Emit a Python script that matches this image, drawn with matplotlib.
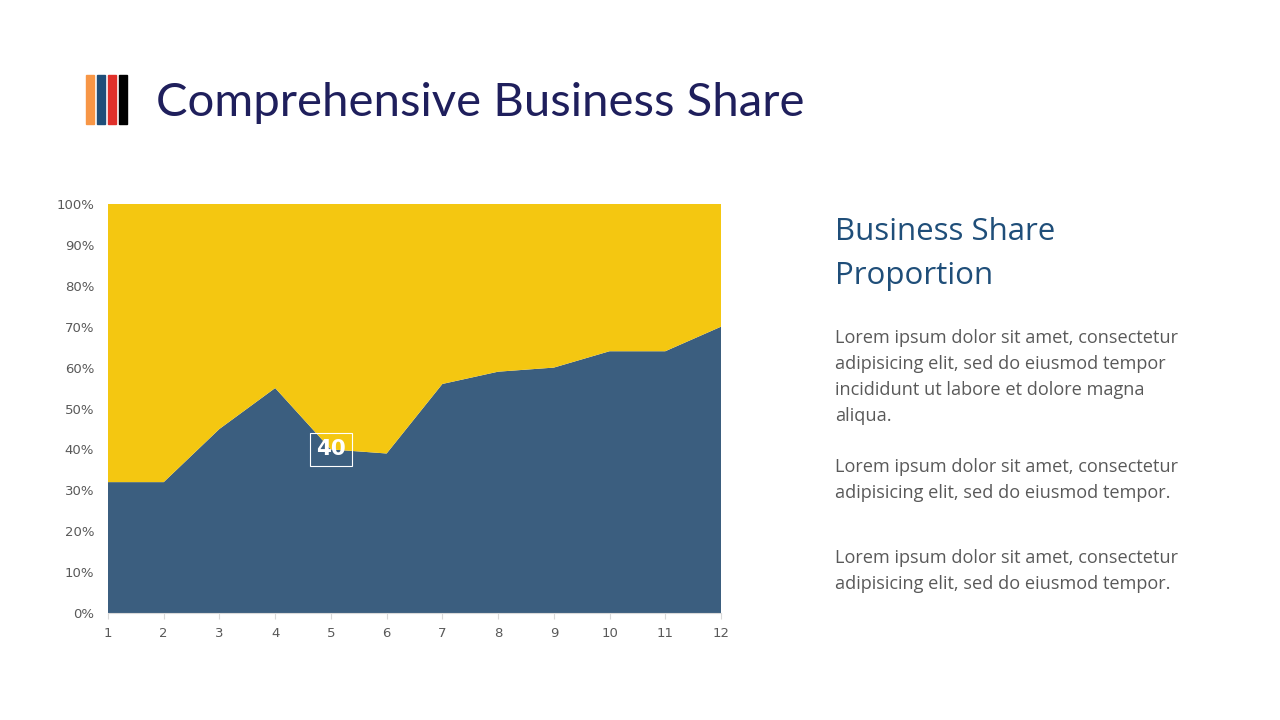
import matplotlib.pyplot as plt
from matplotlib.patches import Rectangle
from matplotlib.ticker import PercentFormatter

# chart data (percent share per period)
periods = [1, 2, 3, 4, 5, 6, 7, 8, 9, 10, 11, 12]
share_a = [32, 32, 45, 55, 40, 39, 56, 59, 60, 64, 64, 70]
share_b = [100 - v for v in share_a]
label_index = 4  # data label shown on period 5

title = "Comprehensive Business Share"
side_heading = "Business Share\nProportion"
side_paragraphs = [
    "Lorem ipsum dolor sit amet, consectetur\nadipisicing elit, sed do eiusmod tempor\nincididunt ut labore et dolore magna\naliqua.",
    "Lorem ipsum dolor sit amet, consectetur\nadipisicing elit, sed do eiusmod tempor.",
    "Lorem ipsum dolor sit amet, consectetur\nadipisicing elit, sed do eiusmod tempor.",
]

BLUE = "#3B5E7F"
YELLOW = "#F4C711"
GRAY = "#595959"

fig = plt.figure(figsize=(12.8, 7.2), dpi=100)
fig.patch.set_facecolor("white")

# title decoration bars
for i, c in enumerate(["#F79646", "#1F4E79", "#E0302A", "#000000"]):
    fig.patches.append(Rectangle(((86 + i * 11) / 1280, 1 - 124 / 720), 8 / 1280, 49 / 720,
                                 transform=fig.transFigure, color=c))
fig.text(156 / 1280, 1 - 103 / 720, title, fontsize=34, color="#1F1F5C",
         family="Lato", fontweight="normal", va="center", ha="left")

# stacked area chart
ax = fig.add_axes([108 / 1280, 1 - 613 / 720, (721 - 108) / 1280, (613 - 204) / 720])
ax.stackplot(periods, share_a, share_b, colors=[BLUE, YELLOW], linewidth=0)
ax.set_xlim(1, 12)
ax.set_ylim(0, 100)
ax.set_xticks(periods)
ax.set_yticks(range(0, 101, 10))
ax.yaxis.set_major_formatter(PercentFormatter(decimals=0))
for side in ["top", "right", "left"]:
    ax.spines[side].set_visible(False)
ax.spines["bottom"].set_color("#D9D9D9")
ax.tick_params(axis="y", length=0, labelsize=9.5, labelcolor=GRAY, pad=10)
ax.tick_params(axis="x", length=4, color="#D9D9D9", labelsize=9.5, labelcolor=GRAY, pad=6)

ax.annotate(str(share_a[label_index]), (periods[label_index], share_a[label_index]),
            ha="center", va="center", fontsize=15.5, fontweight="bold", color="white",
            bbox=dict(boxstyle="square,pad=0.3", fc="none", ec="white", lw=0.8))

# side text
fig.text(835 / 1280, 1 - 254 / 720, side_heading, fontsize=22.5, color="#1F4E79",
         family="Open Sans", va="center", ha="left", linespacing=1.65)
para_tops = [329, 458, 549]
for y, txt in zip(para_tops, side_paragraphs):
    fig.text(835 / 1280, 1 - y / 720, txt, fontsize=13.1, color=GRAY,
             family="Open Sans", va="top", ha="left", linespacing=1.57)

fig.savefig("out.png", dpi=100)
